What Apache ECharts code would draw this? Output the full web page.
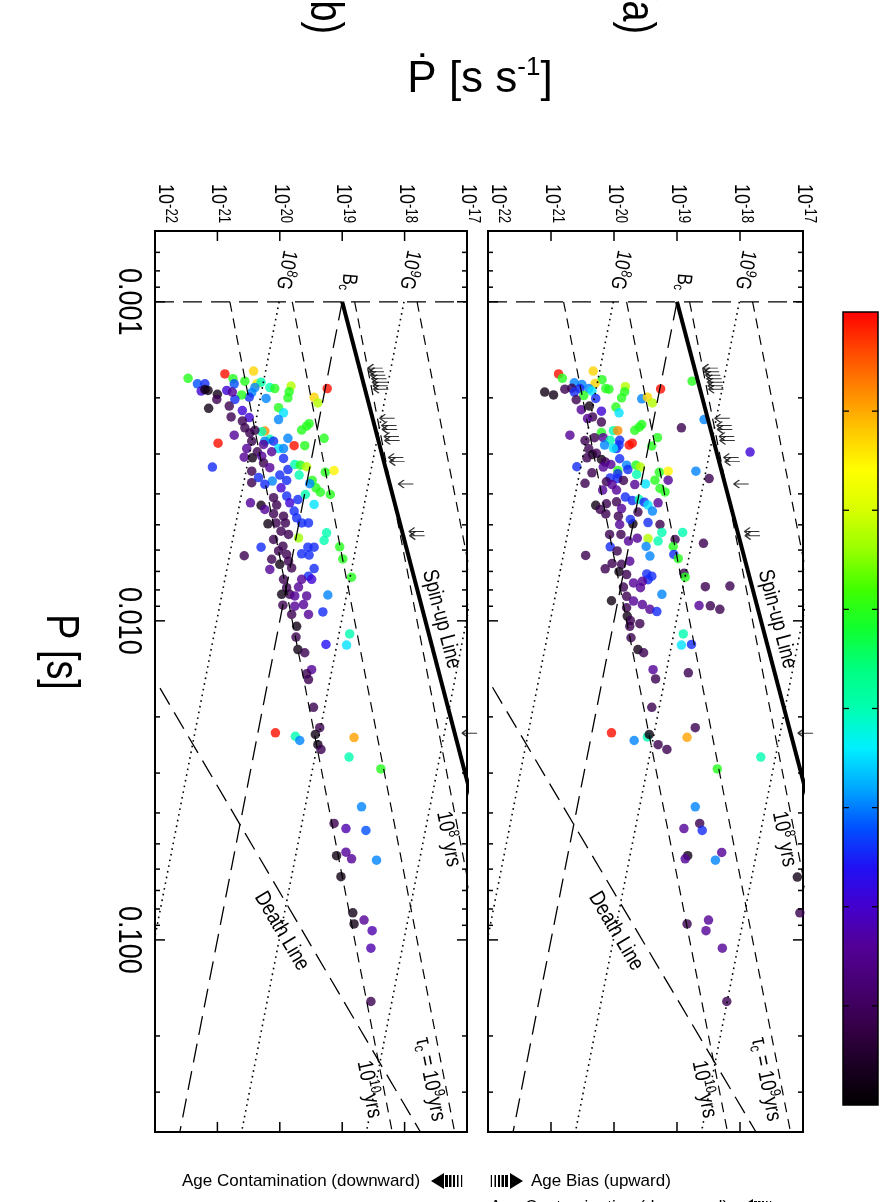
<!DOCTYPE html>
<html>
<head>
<meta charset="utf-8">
<script src="https://cdn.jsdelivr.net/npm/echarts@6.0.0/dist/echarts.min.js"></script>
<style>
html,body{margin:0;padding:0;background:#fff;}
#chart{width:886px;height:1202px;}
</style>
</head>
<body>
<div id="chart"></div>
<script>
// ---------------- data ----------------
const pdotTickValues = [1e-22, 1e-21, 1e-20, 1e-19, 1e-18, 1e-17];
const pdotTickExponents = ['-22', '-21', '-20', '-19', '-18', '-17'];
const pTickValues = [0.001, 0.01, 0.1];
const pTickLabels = ['0.001', '0.010', '0.100'];
const pMinorTickValues = [0.0007, 0.0008, 0.0009, 0.002, 0.003, 0.004, 0.005, 0.006, 0.007, 0.008, 0.009,
  0.02, 0.03, 0.04, 0.05, 0.06, 0.07, 0.08, 0.09, 0.2, 0.3];
const tauYears = [1e7, 1e8, 1e9, 1e10];          // characteristic-age lines
const fieldGauss = [1e8, 1e9, 1e10];             // constant-B lines
const bcCoefficient = 1e-22;                      // B_c line: Pdot = k / P
const spinUp = [1e-19, 0.001, 4 / 3];             // Pdot0, P0, index
const deathLine = [2.8e-17, 3];                   // Pdot = k * P^n
const colourStops = ['#000000', '#1a0022', '#360048', '#460070', '#520096', '#4400cc', '#2010f4',
  '#0050ff', '#00a8ff', '#00f0ff', '#00ffb0', '#00ff80', '#10ff30', '#40ff00', '#98ff00', '#d8ff00',
  '#ffff00', '#ffc800', '#ff8800', '#ff4800', '#ff0000'];

// [log10 P (s), log10 Pdot, colour value 0..1]
const panelAPoints = [
[-2.774,-20.88,.99],[-2.760,-20.82,.62],[-2.783,-20.33,.84],[-2.756,-20.19,.62],[-2.744,-20.30,.84],
[-2.746,-20.63,.38],[-2.741,-20.51,.38],[-2.728,-20.54,.32],[-2.728,-20.40,.38],[-2.720,-20.35,.44],
[-2.728,-20.13,.62],[-2.726,-20.08,.62],[-2.734,-19.82,.72],[-2.718,-19.83,.62],[-2.699,-19.88,.62],
[-2.717,-21.10,.03],[-2.708,-20.96,.03],[-2.726,-20.78,.11],[-2.729,-20.67,.11],[-2.717,-20.63,.32],
[-2.706,-20.48,.62],[-2.697,-20.29,.32],[-2.693,-20.60,.11],[-2.727,-19.26,.99],[-2.751,-18.76,.62],
[-2.696,-19.56,.38],[-2.701,-19.47,.84],[-2.683,-19.39,.72],[-2.670,-19.97,.62],[-2.652,-19.92,.44],
[-2.673,-20.39,.03],[-2.662,-20.52,.2],[-2.657,-20.20,.26],[-2.639,-20.34,.11],[-2.634,-20.42,.2],
[-2.623,-20.20,.11],[-2.631,-18.57,.38],[-2.605,-18.93,.11],[-2.615,-19.56,.62],[-2.607,-19.60,.62],
[-2.597,-19.67,.62],[-2.590,-20.20,.62],[-2.596,-20.01,.5],[-2.596,-19.94,.9],[-2.582,-20.70,.2],
[-2.565,-20.46,.11],[-2.574,-20.31,.11],[-2.574,-20.17,.2],[-2.566,-20.06,.5],[-2.566,-19.91,.32],
[-2.551,-20.15,.38],[-2.551,-19.92,.32],[-2.540,-19.96,.32],[-2.541,-20.01,.44],[-2.551,-19.76,.99],
[-2.557,-19.71,.99],[-2.574,-19.31,.62],[-2.548,-19.40,.62],[-2.539,-20.40,.11],[-2.521,-20.34,.03],
[-2.525,-20.28,.11],[-2.506,-20.20,.03],[-2.529,-17.84,.26],[-2.508,-19.91,.32],[-2.498,-20.14,.11],
[-2.483,-20.59,.32],[-2.511,-20.43,.11],[-2.482,-20.17,.2],[-2.490,-20.05,.2],[-2.488,-19.80,.38],
[-2.488,-19.65,.62],[-2.482,-19.58,.72],[-2.471,-19.94,.62],[-2.474,-19.78,.32],[-2.459,-19.64,.5],
[-2.466,-19.28,.62],[-2.469,-19.14,.81],[-2.469,-18.70,.38],[-2.464,-20.35,.11],[-2.448,-20.06,.32],
[-2.461,-19.94,.32],[-2.446,-19.94,.32],[-2.440,-19.85,.11],[-2.427,-19.67,.2],[-2.429,-19.50,.44],
[-2.441,-19.35,.62],[-2.441,-19.14,.2],[-2.446,-18.49,.11],[-2.431,-20.46,.11],[-2.436,-20.12,.11],
[-2.427,-20.03,.2],[-2.415,-19.27,.62],[-2.404,-19.19,.62],[-2.410,-20.18,.2],[-2.410,-19.96,.2],
[-2.388,-19.82,.32],[-2.377,-19.71,.32],[-2.380,-19.60,.5],[-2.372,-19.52,.32],[-2.370,-19.30,.2],
[-2.362,-20.29,.03],[-2.367,-20.12,.11],[-2.373,-19.96,.11],[-2.349,-20.22,.11],[-2.352,-19.88,.2],
[-2.341,-19.62,.11],[-2.363,-19.46,.44],[-2.344,-19.39,.38],[-2.335,-20.13,.11],[-2.328,-19.93,.11],
[-2.304,-19.70,.03],[-2.318,-19.74,.32],[-2.308,-19.46,.32],[-2.302,-19.91,.2],[-2.271,-20.07,.11],
[-2.271,-19.89,.11],[-2.302,-19.27,.11],[-2.277,-19.24,.5],[-2.277,-18.91,.5],[-2.258,-19.46,.72],
[-2.250,-19.30,.5],[-2.259,-19.63,.2],[-2.255,-19.03,.11],[-2.243,-18.58,.11],[-2.232,-20.06,.32],
[-2.219,-19.95,.11],[-2.250,-19.77,.2],[-2.233,-19.49,.38],[-2.203,-19.43,.38],[-2.233,-19.06,.62],
[-2.208,-19.05,.32],[-2.195,-18.98,.62],[-2.205,-20.45,.11],[-2.163,-20.14,.11],[-2.180,-20.03,.11],
[-2.177,-19.88,.11],[-2.187,-19.75,.2],[-2.154,-19.92,.03],[-2.145,-19.80,.11],[-2.147,-19.48,.32],
[-2.140,-19.40,.32],[-2.129,-19.46,.32],[-2.149,-18.89,.11],[-2.137,-18.87,.62],[-2.106,-19.85,.11],
[-2.119,-19.69,.2],[-2.104,-19.58,.2],[-2.124,-19.55,.2],[-2.107,-18.55,.11],[-2.109,-18.16,.11],
[-2.083,-19.24,.38],[-2.063,-20.04,.03],[-2.077,-19.80,.11],[-2.062,-19.69,.2],[-2.051,-19.55,.2],
[-2.036,-19.43,.2],[-2.029,-19.32,.32],[-2.041,-19.80,.11],[-2.048,-18.65,.2],[-2.047,-18.47,.11],
[-2.036,-18.32,.11],[-2.015,-19.79,.03],[-2.001,-19.74,.11],[-1.991,-19.59,.11],[-1.983,-19.75,.11],
[-1.959,-18.90,.5],[-1.924,-18.93,.44],[-1.926,-18.77,.32],[-1.947,-19.73,.11],[-1.910,-19.62,.03],
[-1.900,-19.53,.11],[-1.847,-19.38,.2],[-1.818,-19.34,.11],[-1.837,-18.82,.11],[-1.729,-19.40,.11],
[-1.665,-18.71,.11],[-1.649,-20.04,.99],[-1.625,-19.68,.38],[-1.636,-19.47,.5],[-1.644,-19.44,.03],
[-1.612,-19.30,.11],[-1.597,-19.16,.11],[-1.635,-18.84,.88],[-1.573,-17.67,.5],[-1.536,-18.36,.62],
[-1.417,-18.71,.38],[-1.349,-18.89,.2],[-1.365,-18.64,.11],[-1.343,-18.60,.32],[-1.264,-18.83,.03],
[-1.254,-18.87,.2],[-1.274,-18.29,.2],[-1.250,-18.39,.38],[-1.197,-17.09,.03],[-1.085,-17.05,.11],
[-1.050,-18.84,.11],[-1.062,-18.50,.2],[-1.029,-18.54,.2],[-0.974,-18.28,.2],[-0.807,-18.21,.11]
];

const panelBPoints = [
[-2.760,-21.47,.62],[-2.743,-21.32,.35],[-2.743,-21.20,.32],[-2.720,-21.26,.26],[-2.725,-21.20,.03],
[-2.722,-21.15,.03],[-2.710,-21.00,.03],[-2.694,-21.01,.11],[-2.774,-20.88,.99],[-2.759,-20.75,.62],
[-2.743,-20.73,.35],[-2.751,-20.56,.62],[-2.783,-20.42,.84],[-2.743,-20.37,.82],[-2.748,-20.30,.5],
[-2.731,-20.40,.38],[-2.715,-20.45,.38],[-2.701,-20.49,.32],[-2.708,-20.61,.62],[-2.694,-20.72,.32],
[-2.722,-20.85,.26],[-2.717,-20.76,.2],[-2.731,-20.16,.5],[-2.728,-20.08,.62],[-2.697,-20.22,.38],
[-2.736,-19.82,.72],[-2.718,-19.85,.62],[-2.699,-19.87,.62],[-2.666,-21.14,.03],[-2.673,-20.81,.11],
[-2.639,-20.78,.11],[-2.659,-20.60,.26],[-2.637,-20.49,.26],[-2.626,-20.60,.11],[-2.668,-20.02,.62],
[-2.652,-19.94,.44],[-2.631,-20.02,.38],[-2.728,-19.24,.99],[-2.701,-19.45,.84],[-2.683,-19.39,.72],
[-2.618,-19.53,.62],[-2.610,-19.57,.62],[-2.598,-19.65,.62],[-2.572,-19.29,.62],[-2.595,-20.24,.9],
[-2.593,-20.29,.5],[-2.569,-20.16,.5],[-2.563,-20.24,.38],[-2.582,-20.73,.2],[-2.557,-20.99,.99],
[-2.605,-20.56,.11],[-2.589,-20.48,.11],[-2.597,-20.40,.11],[-2.563,-20.45,.11],[-2.540,-20.53,.2],
[-2.553,-20.26,.2],[-2.563,-20.10,.32],[-2.540,-20.02,.44],[-2.540,-19.94,.38],[-2.572,-19.87,.38],
[-2.549,-19.77,.99],[-2.549,-19.60,.62],[-2.482,-21.08,.32],[-2.513,-20.57,.2],[-2.511,-20.44,.03],
[-2.530,-20.36,.11],[-2.516,-20.29,.2],[-2.530,-20.13,.2],[-2.495,-20.26,.11],[-2.480,-20.16,.2],
[-2.469,-20.45,.11],[-2.433,-20.45,.11],[-2.449,-20.34,.32],[-2.509,-19.94,.32],[-2.474,-19.87,.32],
[-2.490,-19.76,.5],[-2.488,-19.67,.62],[-2.483,-19.57,.72],[-2.457,-19.69,.5],[-2.457,-20.00,.32],
[-2.440,-19.89,.32],[-2.438,-20.12,.38],[-2.428,-20.24,.32],[-2.417,-19.98,.26],[-2.440,-19.48,.62],
[-2.417,-19.42,.62],[-2.403,-19.35,.62],[-2.466,-19.27,.62],[-2.471,-19.13,.81],[-2.396,-19.19,.62],
[-2.430,-19.52,.38],[-2.370,-20.47,.2],[-2.362,-20.30,.03],[-2.349,-20.24,.2],[-2.386,-20.10,.11],
[-2.363,-20.05,.11],[-2.391,-19.89,.32],[-2.370,-19.84,.26],[-2.380,-19.71,.32],[-2.344,-19.77,.32],
[-2.396,-19.59,.5],[-2.365,-19.45,.44],[-2.328,-19.94,.11],[-2.336,-20.10,.11],[-2.304,-20.19,.03],
[-2.307,-20.06,.11],[-2.307,-19.91,.11],[-2.323,-19.73,.32],[-2.307,-19.65,.32],[-2.307,-19.54,.32],
[-2.281,-19.98,.11],[-2.271,-19.86,.11],[-2.260,-19.70,.7],[-2.255,-20.10,.11],[-2.219,-20.02,.11],
[-2.234,-19.95,.11],[-2.231,-20.30,.32],[-2.204,-20.57,.11],[-2.193,-20.13,.11],[-2.161,-20.16,.2],
[-2.208,-19.89,.11],[-2.187,-19.86,.11],[-2.177,-20.00,.03],[-2.166,-19.81,.11],[-2.231,-19.55,.32],
[-2.231,-19.45,.32],[-2.206,-19.53,.32],[-2.210,-19.65,.32],[-2.276,-19.25,.5],[-2.252,-19.29,.5],
[-2.232,-19.04,.62],[-2.194,-18.99,.62],[-2.137,-18.85,.62],[-2.164,-19.45,.32],[-2.140,-19.54,.32],
[-2.130,-19.49,.26],[-2.130,-19.65,.2],[-2.106,-19.70,.2],[-2.130,-19.94,.11],[-2.104,-19.89,.11],
[-2.083,-19.84,.11],[-2.083,-19.97,.03],[-2.078,-19.76,.2],[-2.078,-19.57,.2],[-2.051,-19.62,.2],
[-2.046,-19.76,.2],[-2.020,-19.54,.2],[-2.020,-19.81,.11],[-2.049,-19.95,.11],[-2.081,-19.23,.38],
[-2.028,-19.31,.32],[-1.983,-19.73,.03],[-1.949,-19.74,.11],[-1.959,-18.88,.5],
[-1.910,-19.71,.03],[-1.900,-19.60,.11],[-1.924,-18.93,.44],[-1.926,-19.26,.3],[-1.847,-19.49,.2],
[-1.834,-19.57,.11],[-1.816,-19.54,.11],[-1.729,-19.46,.11],[-1.665,-19.36,.11],[-1.644,-19.43,.03],
[-1.612,-19.39,.03],[-1.597,-19.34,.11],[-1.649,-20.07,.99],[-1.638,-19.75,.5],[-1.625,-19.68,.38],
[-1.634,-18.81,.88],[-1.573,-18.89,.5],[-1.536,-18.38,.62],[-1.417,-18.69,.38],[-1.365,-19.13,.11],
[-1.349,-18.94,.22],[-1.343,-18.62,.35],[-1.264,-19.09,.03],[-1.275,-18.94,.2],[-1.254,-18.85,.2],
[-1.250,-18.45,.38],[-1.198,-19.02,.03],[-1.085,-18.83,.03],[-1.050,-18.81,.03],[-1.062,-18.65,.2],
[-1.029,-18.52,.22],[-0.974,-18.54,.22],[-0.807,-18.54,.11]
];

// age-contamination arrows near the spin-up line: [log10 P, log10 Pdot of arrow head]
const arrowHeads = [
[-2.792,-18.59],[-2.781,-18.57],[-2.770,-18.55],[-2.759,-18.53],[-2.748,-18.52],[-2.737,-18.51],[-2.726,-18.50],
[-2.635,-18.40],[-2.612,-18.37],[-2.600,-18.36],[-2.578,-18.33],[-2.565,-18.32],
[-2.512,-18.26],[-2.499,-18.24],[-2.429,-18.10],[-2.280,-17.93],[-2.267,-17.92],[-1.648,-17.08]
];

// ---------------- drawing ----------------
const FF = "'Liberation Sans', Arial, Helvetica, sans-serif";
const NARROW = 0.82;
const YEAR = 3.156e7;
const P_LO = 0.001, P_HI = 0.4;

const mctx = document.createElement('canvas').getContext('2d');
function textW(t, fs) { mctx.font = fs + 'px ' + FF; return mctx.measureText(t).width; }
function makeLabel(parts, x, y, rotDeg, align, sx) {
  let w = 0; const kids = [];
  for (const [t, fs, dy] of parts) {
    kids.push({ type: 'text', x: w, y: dy, silent: true,
      style: { text: t, fontSize: fs, fontFamily: FF, fill: '#000', align: 'left', verticalAlign: 'middle' } });
    w += textW(t, fs);
  }
  const off = align === 'right' ? -w : (align === 'center' ? -w / 2 : 0);
  kids.forEach(k => { k.x += off; });
  return { type: 'group', x: x, y: y, rotation: rotDeg * Math.PI / 180, scaleX: sx, scaleY: 1, children: kids, silent: true };
}

const lineLabelSpecs = [
  { parts: [['Spin-up Line', 22, 0]], pdot: -17.41, p: -2.005, rot: -75.3 },
  { parts: [['Death Line', 22, 0]], pdot: -19.97, p: -1.027, rot: -59.4 },
  { parts: [['10', 22, 0], ['8', 15, -6], [' yrs', 22, 0]], pdot: -17.30, p: -1.316, rot: -78.8 },
  { parts: [['\u03C4', 22, 0], ['c', 15, 5], [' = 10', 22, 0], ['9', 15, -6], ['yrs', 22, 0]], pdot: -17.59, p: -0.563, rot: -78.8 },
  { parts: [['10', 22, 0], ['10', 15, -6], ['yrs', 22, 0]], pdot: -18.57, p: -0.532, rot: -78.8 },
  { parts: [['10', 21, 0], ['8', 15, -6], ['G', 21, 0]], pdot: -19.90, p: -3.10, rot: -101 },
  { parts: [['10', 21, 0], ['9', 15, -6], ['G', 21, 0]], pdot: -17.92, p: -3.10, rot: -101 },
  { parts: [['B', 21, 0], ['c', 14, 5]], pdot: -18.90, p: -3.062, rot: -95 }
];

function pts(arr) { return arr.map(r => [Math.pow(10, r[1]), Math.pow(10, r[0]), r[2]]); }

function lineS(gi, data, style, z) {
  return { type: 'line', xAxisIndex: gi, yAxisIndex: gi, data: data, showSymbol: false, symbol: 'none',
    lineStyle: Object.assign({ color: '#000' }, style), z: z || 3, silent: true, clip: true, animation: false };
}

function modelLines(gi) {
  const s = [];
  const longDash = { width: 1.3, type: [19, 9] };
  s.push(lineS(gi, [[1e-22, P_LO], [1e-17, P_LO]], longDash));
  tauYears.forEach(t => {
    s.push(lineS(gi, [[P_LO / (2 * t * YEAR), P_LO], [P_HI / (2 * t * YEAR), P_HI]], { width: 1.2, type: [10, 7] }));
  });
  fieldGauss.forEach(B => {
    const k = Math.pow(B / 3.2e19, 2);
    s.push(lineS(gi, [[k / P_LO, P_LO], [k / P_HI, P_HI]], { width: 1.6, type: [1.6, 4.2] }));
  });
  s.push(lineS(gi, [[bcCoefficient / P_LO, P_LO], [bcCoefficient / P_HI, P_HI]], longDash));
  s.push(lineS(gi, [[deathLine[0] * Math.pow(P_LO, deathLine[1]), P_LO], [deathLine[0] * Math.pow(P_HI, deathLine[1]), P_HI]], longDash));
  s.push(lineS(gi, [[spinUp[0], spinUp[1]], [spinUp[0] * Math.pow(P_HI / spinUp[1], spinUp[2]), P_HI]], { width: 4, type: 'solid' }, 4));
  return s;
}

function arrowSeries(gi) {
  return { type: 'scatter', xAxisIndex: gi, yAxisIndex: gi, silent: true, clip: false, z: 5,
    data: arrowHeads.map(r => [Math.pow(10, r[1]), Math.pow(10, r[0])]),
    symbol: 'path://M0,5L6,0M0,5L6,10M0,5L16,5', symbolSize: [15, 8], symbolOffset: ['50%', 0],
    itemStyle: { color: '#000', borderColor: '#000', borderWidth: 1.3 } };
}

function labelSeries(gi) {
  return { type: 'custom', xAxisIndex: gi, yAxisIndex: gi, coordinateSystem: 'cartesian2d', clip: false, silent: true, z: 6,
    data: lineLabelSpecs.map((s, i) => [Math.pow(10, s.pdot), Math.pow(10, s.p), i]),
    renderItem: function (params, api) {
      const s = lineLabelSpecs[api.value(2)];
      const c = api.coord([api.value(0), api.value(1)]);
      return makeLabel(s.parts, c[0], c[1], s.rot, 'center', NARROW);
    } };
}

function tickSeries(gi, showPLabels) {
  const data = [];
  pMinorTickValues.forEach(v => data.push([1e-20, v, 0, -1]));
  pTickValues.forEach((v, i) => data.push([1e-20, v, 1, i]));
  pdotTickValues.forEach((v, i) => data.push([v, 0.01, 2, i]));
  return { type: 'custom', xAxisIndex: gi, yAxisIndex: gi, coordinateSystem: 'cartesian2d', clip: false, silent: true, z: 6,
    data: data,
    renderItem: function (params, api) {
      const cs = params.coordSys;
      const kind = api.value(2), idx = api.value(3);
      const st = { stroke: '#000', lineWidth: 1.5 };
      const ch = [];
      if (kind === 0 || kind === 1) {
        const y = api.coord([1e-20, api.value(1)])[1];
        const L = kind === 1 ? 10 : 5;
        ch.push({ type: 'line', shape: { x1: cs.x, y1: y, x2: cs.x + L, y2: y }, style: st });
        ch.push({ type: 'line', shape: { x1: cs.x + cs.width - L, y1: y, x2: cs.x + cs.width, y2: y }, style: st });
        if (kind === 1 && showPLabels) {
          ch.push(makeLabel([[pTickLabels[idx], 33, 0]], cs.x - 27, y, -90, 'center', NARROW));
        }
      } else {
        const x = api.coord([api.value(0), 0.01])[0];
        ch.push({ type: 'line', shape: { x1: x, y1: cs.y, x2: x, y2: cs.y + 10 }, style: st });
        ch.push({ type: 'line', shape: { x1: x, y1: cs.y + cs.height - 10, x2: x, y2: cs.y + cs.height }, style: st });
        const ax = Math.max(x + 1, cs.x + 10);
        ch.push(makeLabel([['10', 22, 0], [pdotTickExponents[idx], 16, -5]], ax, cs.y - 8, -90, 'right', NARROW));
      }
      return { type: 'group', children: ch };
    } };
}

const grids = [
  { left: 155, top: 231, width: 312, height: 901 },   // panel (b)
  { left: 488, top: 231, width: 315, height: 901 }    // panel (a)
];

const series = [
  { type: 'scatter', xAxisIndex: 0, yAxisIndex: 0, data: pts(panelBPoints), symbolSize: 9.5, z: 2, silent: true },
  { type: 'scatter', xAxisIndex: 1, yAxisIndex: 1, data: pts(panelAPoints), symbolSize: 9.5, z: 2, silent: true }
];
[0, 1].forEach(gi => {
  modelLines(gi).forEach(s => series.push(s));
  series.push(arrowSeries(gi));
  series.push(labelSeries(gi));
  series.push(tickSeries(gi, gi === 0));
});

const axisOff = { show: false };
const barX = 843, barY = 312, barW = 35, barH = 793;
const graphic = [];
graphic.push({ type: 'rect', shape: { x: barX, y: barY, width: barW, height: barH }, silent: true,
  style: { fill: new echarts.graphic.LinearGradient(0, 1, 0, 0,
    colourStops.map((c, i) => ({ offset: i / (colourStops.length - 1), color: c }))), stroke: '#000', lineWidth: 1.5 } });
for (let k = 1; k < 8; k++) {
  const y = barY + barH * k / 8;
  graphic.push({ type: 'line', silent: true, shape: { x1: barX, y1: y, x2: barX + 6, y2: y }, style: { stroke: '#000', lineWidth: 1.3 } });
  graphic.push({ type: 'line', silent: true, shape: { x1: barX + barW - 6, y1: y, x2: barX + barW, y2: y }, style: { stroke: '#000', lineWidth: 1.3 } });
}
graphic.push(makeLabel([['\u1E56 [s s', 44, 0], ['-1', 26, -12], [']', 44, 0]], 480, 80, 0, 'center', 1));
graphic.push(makeLabel([['P [s]', 46, 0]], 60, 652, -90, 'center', NARROW));
graphic.push(makeLabel([['(a)', 46, 0]], 636, 11, -90, 'center', NARROW));
graphic.push(makeLabel([['(b)', 46, 0]], 324, 11, -90, 'center', NARROW));

function legendText(t, x, y) {
  return { type: 'text', x: x, y: y, silent: true,
    style: { text: t, fontSize: 17, fontFamily: FF, fill: '#000', align: 'left', verticalAlign: 'middle' } };
}
function hatchedArrow(x, y, dir) {
  // dir = -1: head on the left, hatch to the right; dir = 1: hatch left, head right
  const els = [];
  const head = dir < 0 ? [[x, y], [x + 13, y - 8], [x + 13, y + 8]] : [[x + 34, y], [x + 21, y - 8], [x + 21, y + 8]];
  els.push({ type: 'polygon', silent: true, shape: { points: head }, style: { fill: '#000' } });
  const widths = [3, 2.5, 2, 1.5, 1.2];
  for (let i = 0; i < 5; i++) {
    const bx = dir < 0 ? x + 14 + i * 4 : x + 19 - i * 4 - widths[i];
    els.push({ type: 'rect', silent: true, shape: { x: bx, y: y - 6, width: widths[i], height: 12 }, style: { fill: '#000' } });
  }
  return els;
}
graphic.push(legendText('Age Contamination (downward)', 182, 1181));
hatchedArrow(431, 1181, -1).forEach(e => graphic.push(e));
hatchedArrow(489, 1181, 1).forEach(e => graphic.push(e));
graphic.push(legendText('Age Bias (upward)', 531, 1181));
graphic.push(legendText('Age Contamination (downward)', 490, 1207));
hatchedArrow(740, 1207, -1).forEach(e => graphic.push(e));

const option = {
  animation: false,
  backgroundColor: '#fff',
  grid: grids.map(g => Object.assign({ show: true, borderColor: '#000', borderWidth: 2, backgroundColor: 'transparent' }, g)),
  xAxis: [0, 1].map(gi => ({ type: 'log', logBase: 10, gridIndex: gi, min: 1e-22, max: 1e-17,
    axisLine: axisOff, axisTick: axisOff, axisLabel: axisOff, splitLine: axisOff })),
  yAxis: [0, 1].map(gi => ({ type: 'log', logBase: 10, gridIndex: gi, min: 0.0006, max: 0.4, inverse: true,
    axisLine: axisOff, axisTick: axisOff, axisLabel: axisOff, splitLine: axisOff })),
  visualMap: { type: 'continuous', show: false, min: 0, max: 1, dimension: 2, seriesIndex: [0, 1],
    inRange: { color: colourStops } },
  graphic: graphic,
  series: series
};

const chart = echarts.init(document.getElementById('chart'), null, { renderer: 'canvas' });
chart.setOption(option);
</script>
</body>
</html>
